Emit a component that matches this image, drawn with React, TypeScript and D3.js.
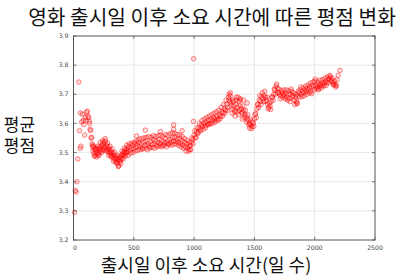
import React from "react";
import * as d3 from "d3";

const xTicks = [0, 500, 1000, 1500, 2000, 2500];
const yTicks = [3.2, 3.3, 3.4, 3.5, 3.6, 3.7, 3.8, 3.9];

const earlyPoints: [number, number][] = [
  [8, 3.295], [14, 3.37], [22, 3.365], [28, 3.4], [36, 3.478], [44, 3.742], [50, 3.575],
  [56, 3.515], [62, 3.522], [58, 3.636], [68, 3.605], [74, 3.632], [80, 3.61], [86, 3.596],
  [92, 3.56], [98, 3.62], [104, 3.61], [110, 3.638], [114, 3.642], [120, 3.625], [126, 3.62],
  [130, 3.608], [134, 3.6], [138, 3.58], [142, 3.576], [146, 3.55], [150, 3.552], [154, 3.53],
  [158, 3.52],
];

const bandEarly: [number, number][] = [
  [160, 3.505], [165, 3.52], [170, 3.498], [175, 3.512], [180, 3.49], [185, 3.505], [190, 3.51],
  [195, 3.495], [200, 3.515], [205, 3.5], [210, 3.49], [215, 3.51], [220, 3.52], [225, 3.505],
  [230, 3.515], [235, 3.525], [240, 3.51], [245, 3.53], [250, 3.52], [255, 3.535], [260, 3.515],
  [265, 3.54], [270, 3.525], [275, 3.51], [280, 3.52], [285, 3.505], [290, 3.515], [295, 3.5],
  [300, 3.51], [305, 3.495], [310, 3.505], [315, 3.49], [320, 3.5], [325, 3.485], [330, 3.495],
  [335, 3.48], [340, 3.49], [345, 3.475], [350, 3.485], [355, 3.47], [360, 3.48], [365, 3.462],
  [370, 3.475], [375, 3.455], [380, 3.47], [385, 3.48], [390, 3.472], [395, 3.49], [400, 3.48],
  [405, 3.495], [410, 3.488], [415, 3.5], [420, 3.492], [425, 3.505], [430, 3.498], [435, 3.51],
  [440, 3.5], [445, 3.515], [450, 3.505], [460, 3.52], [470, 3.508], [480, 3.515], [490, 3.525],
  [500, 3.512], [510, 3.53], [520, 3.518], [530, 3.525], [540, 3.535], [550, 3.52], [560, 3.53],
  [570, 3.515], [580, 3.535], [590, 3.525], [600, 3.54], [610, 3.525], [620, 3.532], [630, 3.52],
  [640, 3.538], [650, 3.528], [660, 3.545], [670, 3.53], [680, 3.54], [690, 3.525], [700, 3.535],
  [710, 3.545], [720, 3.53], [730, 3.54], [740, 3.525], [750, 3.535], [760, 3.548], [770, 3.532],
  [780, 3.54], [790, 3.53], [800, 3.545], [810, 3.535], [820, 3.55], [830, 3.54], [840, 3.552],
  [850, 3.538], [860, 3.545], [870, 3.535], [880, 3.548], [890, 3.53], [900, 3.54], [910, 3.525],
  [920, 3.535], [930, 3.52], [940, 3.53], [950, 3.515], [960, 3.522], [965, 3.51], [970, 3.525],
  [980, 3.535], [990, 3.545], [1000, 3.56],
];

const bandEarlyB: [number, number][] = [
  [162, 3.525], [172, 3.488], [182, 3.515], [192, 3.485], [202, 3.522], [212, 3.495], [222, 3.535],
  [232, 3.5], [242, 3.54], [252, 3.508], [262, 3.548], [272, 3.505], [282, 3.532], [292, 3.49],
  [302, 3.522], [312, 3.485], [322, 3.512], [332, 3.47], [342, 3.5], [352, 3.465], [362, 3.49],
  [372, 3.452], [382, 3.485], [392, 3.462], [402, 3.505], [412, 3.478], [422, 3.515], [432, 3.488],
  [442, 3.525], [452, 3.49], [462, 3.53], [472, 3.498], [482, 3.532], [492, 3.5], [502, 3.535],
  [512, 3.505], [522, 3.54], [532, 3.508], [542, 3.545], [552, 3.51], [562, 3.548], [572, 3.512],
  [582, 3.55], [592, 3.515], [602, 3.552], [612, 3.51], [622, 3.555], [632, 3.515], [642, 3.552],
  [652, 3.518], [662, 3.558], [672, 3.515], [682, 3.555], [692, 3.52], [702, 3.558], [712, 3.522],
  [722, 3.56], [732, 3.52], [742, 3.555], [752, 3.525], [762, 3.562], [772, 3.52], [782, 3.56],
  [792, 3.528], [802, 3.565], [812, 3.525], [822, 3.568], [832, 3.528], [842, 3.565], [852, 3.53],
  [862, 3.562], [872, 3.525], [882, 3.56], [892, 3.52], [902, 3.555], [912, 3.515], [922, 3.548],
  [932, 3.505], [942, 3.542], [952, 3.505], [962, 3.535], [972, 3.51], [982, 3.55], [992, 3.53],
];

const bandLate: [number, number][] = [
  [1010, 3.55], [1020, 3.57], [1030, 3.565], [1040, 3.585], [1050, 3.58], [1060, 3.595],
  [1070, 3.59], [1080, 3.6], [1090, 3.592], [1100, 3.605], [1110, 3.598], [1120, 3.61],
  [1130, 3.6], [1140, 3.615], [1150, 3.608], [1160, 3.62], [1170, 3.612], [1180, 3.618],
  [1190, 3.625], [1200, 3.615], [1210, 3.63], [1220, 3.625], [1230, 3.64], [1240, 3.635],
  [1250, 3.65], [1260, 3.645], [1270, 3.665], [1280, 3.655], [1290, 3.68], [1300, 3.695],
  [1305, 3.67], [1310, 3.66], [1320, 3.65], [1330, 3.66], [1340, 3.645], [1350, 3.665],
  [1360, 3.655], [1370, 3.675], [1380, 3.66], [1390, 3.65], [1400, 3.64], [1410, 3.645],
  [1420, 3.63], [1430, 3.625], [1440, 3.615], [1450, 3.61], [1460, 3.6], [1470, 3.595],
  [1480, 3.59], [1490, 3.6], [1500, 3.615], [1510, 3.635], [1520, 3.65], [1530, 3.665],
  [1540, 3.68], [1550, 3.675], [1560, 3.69], [1570, 3.685], [1580, 3.695], [1590, 3.69],
  [1600, 3.68], [1610, 3.665], [1620, 3.655], [1630, 3.66], [1640, 3.675], [1650, 3.69],
  [1660, 3.7], [1670, 3.715], [1680, 3.728], [1690, 3.72], [1700, 3.705], [1710, 3.7],
  [1720, 3.695], [1730, 3.705], [1740, 3.7], [1750, 3.695], [1760, 3.705], [1770, 3.69],
  [1780, 3.7], [1790, 3.685], [1800, 3.7], [1810, 3.71], [1820, 3.695], [1830, 3.68],
  [1840, 3.69], [1850, 3.675], [1860, 3.695], [1870, 3.705], [1880, 3.715], [1890, 3.7],
  [1900, 3.71], [1910, 3.705], [1920, 3.715], [1930, 3.71], [1940, 3.72], [1950, 3.715],
  [1960, 3.725], [1970, 3.71], [1980, 3.73], [1990, 3.725], [2000, 3.745], [2010, 3.73],
  [2020, 3.725], [2030, 3.735], [2040, 3.728], [2050, 3.735], [2060, 3.73], [2070, 3.74],
  [2080, 3.735], [2090, 3.745], [2100, 3.74], [2110, 3.75], [2120, 3.755], [2130, 3.76],
  [2140, 3.748], [2150, 3.74], [2160, 3.735], [2170, 3.732], [2180, 3.73],
];

const bandLateB: [number, number][] = [
  [1005, 3.575], [1015, 3.552], [1025, 3.585], [1035, 3.57], [1045, 3.6], [1055, 3.575],
  [1065, 3.61], [1075, 3.58], [1085, 3.615], [1095, 3.585], [1105, 3.62], [1115, 3.595],
  [1125, 3.625], [1135, 3.598], [1145, 3.63], [1155, 3.6], [1165, 3.635], [1175, 3.605],
  [1185, 3.64], [1195, 3.61], [1205, 3.645], [1215, 3.615], [1225, 3.655], [1235, 3.625],
  [1245, 3.665], [1255, 3.635], [1265, 3.68], [1275, 3.645], [1285, 3.69], [1295, 3.675],
  [1315, 3.635], [1325, 3.675], [1335, 3.64], [1345, 3.68], [1355, 3.64], [1365, 3.69],
  [1375, 3.645], [1385, 3.68], [1395, 3.635], [1405, 3.66], [1415, 3.62], [1425, 3.645],
  [1435, 3.605], [1445, 3.63], [1455, 3.595], [1465, 3.615], [1475, 3.582], [1485, 3.605],
  [1495, 3.59], [1505, 3.63], [1515, 3.62], [1525, 3.665], [1535, 3.655], [1545, 3.695],
  [1555, 3.665], [1565, 3.705], [1575, 3.675], [1585, 3.71], [1595, 3.675], [1605, 3.69],
  [1615, 3.65], [1625, 3.67], [1635, 3.648], [1645, 3.69], [1655, 3.68], [1665, 3.718],
  [1675, 3.7], [1685, 3.735], [1695, 3.705], [1705, 3.718], [1715, 3.685], [1725, 3.712],
  [1735, 3.69], [1745, 3.715], [1755, 3.685], [1765, 3.715], [1775, 3.68], [1785, 3.712],
  [1795, 3.675], [1805, 3.718], [1815, 3.69], [1825, 3.705], [1835, 3.665], [1845, 3.7],
  [1855, 3.668], [1865, 3.71], [1875, 3.69], [1885, 3.725], [1895, 3.692], [1905, 3.722],
  [1915, 3.695], [1925, 3.728], [1935, 3.7], [1945, 3.732], [1955, 3.705], [1965, 3.738],
  [1975, 3.702], [1985, 3.742], [1995, 3.715], [2005, 3.752], [2015, 3.72], [2025, 3.742],
  [2035, 3.72], [2045, 3.748], [2055, 3.722], [2065, 3.75], [2075, 3.728], [2085, 3.755],
  [2095, 3.73], [2105, 3.76], [2115, 3.74], [2125, 3.765], [2135, 3.745], [2145, 3.755],
  [2155, 3.732], [2165, 3.745], [2175, 3.725],
];

const tailPoints: [number, number][] = [
  [2185, 3.75], [2195, 3.765], [2210, 3.782],
];

const outliers: [number, number][] = [
  [996, 3.822], [995, 3.607], [522, 3.557], [596, 3.577], [720, 3.572], [830, 3.595],
  [830, 3.58], [900, 3.575], [1290, 3.7], [1320, 3.68], [1350, 3.69], [1380, 3.685],
  [1410, 3.68], [1440, 3.67], [1340, 3.625], [1370, 3.63], [1400, 3.615], [1460, 3.585],
  [1852, 3.67], [2030, 3.715], [1300, 3.705],
];

const allPoints = [
  ...earlyPoints, ...bandEarly, ...bandEarlyB, ...bandLate, ...bandLateB, ...tailPoints, ...outliers,
];

const W = 398;
const H = 276;
const left = 73.5;
const right = 375;
const top = 36;
const bottom = 240;

export default function App() {
  const x = d3.scaleLinear().domain([0, 2500]).range([left, right]);
  const y = d3.scaleLinear().domain([3.2, 3.9]).range([bottom, top]);
  const tickFont = "'DejaVu Sans', sans-serif";
  const krFont = "'Noto Sans CJK KR', sans-serif";

  return (
    <svg width={W} height={H} style={{ position: "absolute", left: 0, top: 0, background: "#fff" }}>
      <rect x={0} y={0} width={W} height={H} fill="#fff" />
      {xTicks.slice(1, -1).map((t) => (
        <line key={"gx" + t} x1={x(t)} x2={x(t)} y1={top} y2={bottom} stroke="#c8c8c8" strokeWidth={0.8} strokeDasharray="1,1" />
      ))}
      {yTicks.slice(1, -1).map((t) => (
        <line key={"gy" + t} x1={left} x2={right} y1={y(t)} y2={y(t)} stroke="#c8c8c8" strokeWidth={0.8} strokeDasharray="1,1" />
      ))}
      <g>
        {allPoints.map((p, i) => (
          <circle key={i} cx={x(p[0])} cy={y(p[1])} r={2.3} fill="rgba(255,0,0,0.12)" stroke="rgba(255,0,0,0.55)" strokeWidth={0.85} />
        ))}
      </g>
      <rect x={left} y={top} width={right - left} height={bottom - top} fill="none" stroke="#555" strokeWidth={1} />
      {yTicks.map((t) => (
        <g key={"ty" + t}>
          <line x1={left} x2={left + 3} y1={y(t)} y2={y(t)} stroke="#555" strokeWidth={0.8} />
          <line x1={right} x2={right - 3} y1={y(t)} y2={y(t)} stroke="#555" strokeWidth={0.8} />
          <text x={left - 5} y={y(t)} dy="0.35em" textAnchor="end" fontSize={6.2} fill="#444" fontFamily={tickFont}>
            {t.toFixed(1)}
          </text>
        </g>
      ))}
      {xTicks.map((t) => (
        <g key={"tx" + t}>
          <line x1={x(t)} x2={x(t)} y1={bottom} y2={bottom - 3} stroke="#555" strokeWidth={0.8} />
          <line x1={x(t)} x2={x(t)} y1={top} y2={top + 3} stroke="#555" strokeWidth={0.8} />
          <text x={x(t) + (t === 0 ? 1.5 : 0)} y={247.5} dy="0.35em" textAnchor="middle" fontSize={6.2} fill="#444" fontFamily={tickFont}>
            {t}
          </text>
        </g>
      ))}
      <text x={212} y={25} textAnchor="middle" fontSize={20.3} fill="#111" fontFamily={krFont}>
        영화 출시일 이후 소요 시간에 따른 평점 변화
      </text>
      <text x={206} y={271.5} textAnchor="middle" fontSize={18} fill="#111" fontFamily={krFont}>
        출시일 이후 소요 시간(일 수)
      </text>
      <text textAnchor="middle" fontSize={17} fill="#111" fontFamily={krFont}>
        <tspan x={19.5} y={131}>평균</tspan>
        <tspan x={19.5} y={152}>평점</tspan>
      </text>
    </svg>
  );
}
